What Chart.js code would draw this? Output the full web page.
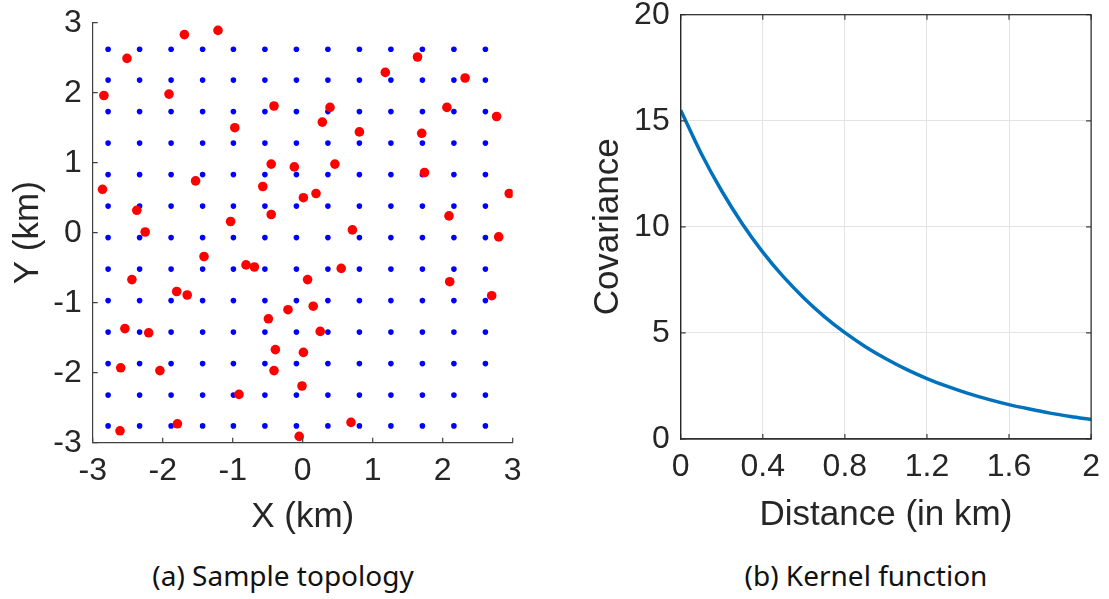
<!DOCTYPE html>
<html>
<head>
<meta charset="utf-8">
<script src="https://cdn.jsdelivr.net/npm/chart.js@4.4.1/dist/chart.umd.min.js"></script>
<style>
  body { margin: 0; background: #fff; width: 1109px; height: 599px; overflow: hidden; position: relative; }
  .box { position: absolute; top: -20px; height: 560px; }
  #box-a { left: 0; width: 555px; }
  #box-b { left: 555px; width: 554px; }
  .caption { position: absolute; top: 556px; font-family: 'Noto Sans', sans-serif; font-size: 28px; color: #111; text-align: center; width: 400px; }
</style>
</head>
<body>
<div class="box" id="box-a"><canvas id="chart-topology"></canvas></div>
<div class="box" id="box-b"><canvas id="chart-kernel"></canvas></div>
<div class="caption" style="left: 83px;">(a) Sample topology</div>
<div class="caption" style="left: 666px;">(b) Kernel function</div>
<script>
// grid of candidate locations (km)
const gridX = [-2.78, -2.33, -1.88, -1.43, -0.99, -0.54, -0.09, 0.36, 0.81, 1.26, 1.71, 2.16, 2.61];
const gridY = [-2.76, -2.32, -1.87, -1.42, -0.97, -0.52, -0.07, 0.38, 0.83, 1.28, 1.73, 2.18, 2.62];

// sampled (red) locations
const sampleX = [-1.69, -1.21, -2.51, -2.84, -1.91, -0.41, -0.97, -0.45, -0.12, -1.53,
                 -2.86, -0.57, 0.01, -2.37, -1.03, -0.45, -2.25, 1.64, 1.18, 2.32,
                 0.39, 2.06, 0.28, 2.77, 0.81, 1.70, 0.46, 1.74, 0.19, 2.95,
                 2.09, 0.71, -1.41, -0.81, -0.69, 0.07, -2.44, -1.80, -1.65, -0.21,
                 -0.49, 0.15, -2.54, -2.20, -0.39, 0.01, -2.60, -2.04, -0.41, -0.01,
                 -0.91, -1.79, -2.61, -0.05, 2.80, 0.55, 2.10, 2.70, 0.25, 0.69];
const sampleY = [2.83, 2.89, 2.49, 1.96, 1.98, 1.81, 1.50, 0.98, 0.94, 0.74,
                 0.62, 0.66, 0.50, 0.32, 0.16, 0.26, 0.01, 2.51, 2.29, 2.21,
                 1.79, 1.79, 1.58, 1.66, 1.44, 1.42, 0.98, 0.86, 0.56, 0.56,
                 0.24, 0.04, -0.34, -0.46, -0.49, -0.67, -0.67, -0.84, -0.89, -1.10,
                 -1.23, -1.05, -1.37, -1.43, -1.67, -1.71, -1.93, -1.97, -1.97, -2.19,
                 -2.31, -2.73, -2.83, -2.91, -0.06, -0.51, -0.70, -0.90, -1.41, -2.71];

const topoTicks = [-3, -2, -1, 0, 1, 2, 3];

// kernel function
const distance = [0, 0.1, 0.2, 0.3, 0.4, 0.5, 0.6, 0.7, 0.8, 0.9, 1.0,
                  1.1, 1.2, 1.3, 1.4, 1.5, 1.6, 1.7, 1.8, 1.9, 2.0];
const covariance = [15.5, 13.46, 11.69, 10.15, 8.81, 7.65, 6.65, 5.77, 5.01, 4.35, 3.78,
                    3.28, 2.85, 2.48, 2.15, 1.87, 1.62, 1.41, 1.22, 1.06, 0.92];
const distTicks = [0, 0.4, 0.8, 1.2, 1.6, 2];
const covTicks = [0, 5, 10, 15, 20];

const AXIS_COLOR = '#404040';
const TEXT_COLOR = '#262626';
const FONT_FAMILY = "'Liberation Sans', Arial, Helvetica, sans-serif";
const TICK_FONT = { family: FONT_FAMILY, size: 32 };
const TITLE_FONT = { family: FONT_FAMILY, size: 35 };

function fixedTicks(values) {
    return scale => { scale.ticks = values.map(v => ({ value: v })); };
}

// MATLAB style inward tick marks (and optional full box)
function innerTicks(fullBox) {
    return {
        id: 'innerTicks',
        afterDraw(chart) {
            const { ctx, chartArea: a, scales } = chart;
            const len = 5;
            ctx.save();
            ctx.strokeStyle = AXIS_COLOR;
            ctx.lineWidth = 1.2;
            ctx.beginPath();
            scales.x.ticks.forEach(t => {
                const px = scales.x.getPixelForValue(t.value);
                ctx.moveTo(px, a.bottom); ctx.lineTo(px, a.bottom - len);
                if (fullBox) { ctx.moveTo(px, a.top); ctx.lineTo(px, a.top + len); }
            });
            scales.y.ticks.forEach(t => {
                const py = scales.y.getPixelForValue(t.value);
                ctx.moveTo(a.left, py); ctx.lineTo(a.left + len, py);
                if (fullBox) { ctx.moveTo(a.right, py); ctx.lineTo(a.right - len, py); }
            });
            ctx.stroke();
            if (fullBox) {
                ctx.strokeStyle = '#262626';
                ctx.strokeRect(a.left, a.top, a.right - a.left, a.bottom - a.top);
            }
            ctx.restore();
        }
    };
}

function axisOptions(min, max, ticks, title, size, titlePad, isX, grid) {
    return {
        type: 'linear',
        min: min,
        max: max,
        afterBuildTicks: fixedTicks(ticks),
        afterFit: s => { if (isX) s.height = size; else s.width = size; },
        grid: grid ? { color: '#e3e3e3', lineWidth: 1, drawTicks: false } : { display: false, drawTicks: false },
        border: { display: true, color: AXIS_COLOR, width: 1.2 },
        ticks: {
            autoSkip: false,
            maxRotation: 0,
            color: TEXT_COLOR,
            font: TICK_FONT,
            padding: isX ? 9 : 11,
            callback: v => String(v)
        },
        title: {
            display: true,
            text: title,
            color: TEXT_COLOR,
            font: TITLE_FONT,
            padding: isX ? { top: 0, bottom: titlePad } : { top: titlePad, bottom: 0 }
        }
    };
}

Chart.defaults.animation = false;
Chart.defaults.responsive = true;
Chart.defaults.maintainAspectRatio = false;

const gridPoints = [];
gridY.forEach(y => gridX.forEach(x => gridPoints.push({ x, y })));

new Chart(document.getElementById('chart-topology'), {
    type: 'scatter',
    data: {
        datasets: [{
            data: sampleX.map((x, i) => ({ x, y: sampleY[i] })),
            backgroundColor: '#ff0000',
            pointRadius: 4.8,
            borderWidth: 0,
            order: 0
        }, {
            data: gridPoints,
            backgroundColor: '#0000ff',
            pointRadius: 2.8,
            borderWidth: 0,
            order: 1
        }]
    },
    options: {
        layout: { padding: { top: 42.7, right: 42.3, left: 0, bottom: 0 } },
        plugins: { legend: { display: false }, tooltip: { enabled: false } },
        scales: {
            x: axisOptions(-3, 3, topoTicks, 'X (km)', 97.3, 2, true, false),
            y: axisOptions(-3, 3, topoTicks, 'Y (km)', 92.7, 7, false, false)
        }
    },
    plugins: [innerTicks(false)]
});

new Chart(document.getElementById('chart-kernel'), {
    type: 'line',
    data: {
        datasets: [{
            data: distance.map((d, i) => ({ x: d, y: covariance[i] })),
            borderColor: '#0072BD',
            borderWidth: 3.5,
            pointRadius: 0,
            cubicInterpolationMode: 'monotone',
            fill: false
        }]
    },
    options: {
        layout: { padding: { top: 34.7, right: 15, left: 0, bottom: 0 } },
        plugins: { legend: { display: false }, tooltip: { enabled: false } },
        scales: {
            x: axisOptions(0, 2, distTicks, 'Distance (in km)', 101, 4, true, true),
            y: axisOptions(0, 20, covTicks, 'Covariance', 125.7, 32, false, true)
        }
    },
    plugins: [innerTicks(true)]
});
</script>
</body>
</html>
